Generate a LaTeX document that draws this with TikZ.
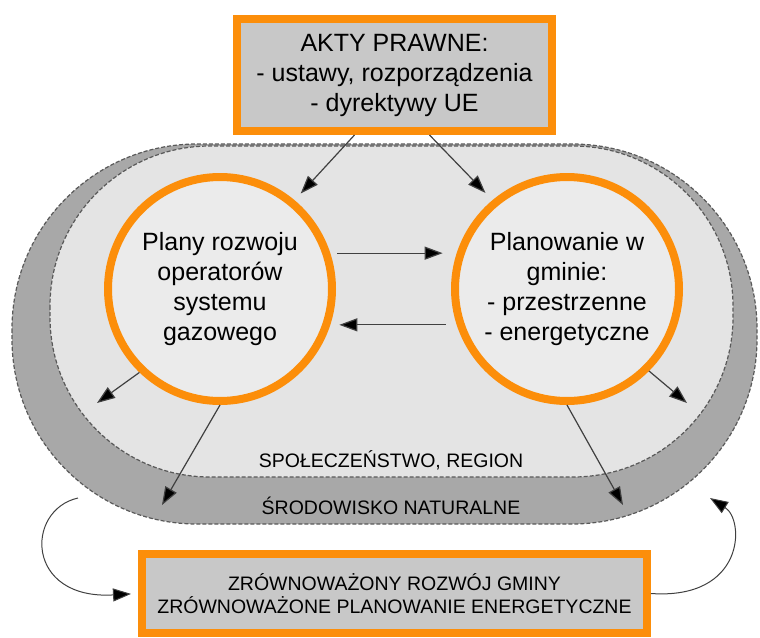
\documentclass[tikz,border=0pt]{standalone}
\usepackage{fontspec}
\setmainfont{Liberation Sans}
\usetikzlibrary{arrows.meta}
\definecolor{pomar}{RGB}{252,142,10}
\definecolor{szaryjasny}{RGB}{228,228,228}
\definecolor{szaryciemny}{RGB}{168,168,168}
\definecolor{szarybox}{RGB}{200,200,200}
\begin{document}
\begin{tikzpicture}[x=1pt, y=-1pt,
    box/.style={draw=pomar, line width=8pt, fill=szarybox, align=center, inner sep=0pt},
    plan/.style={circle, draw=pomar, line width=8pt, fill=szaryjasny!75!white, align=center,
      minimum size=224pt, inner sep=0pt, font=\fontsize{25}{30}\selectfont},
    strefa/.style={draw=black!65, dash pattern=on 4pt off 2pt, line width=1.2pt},
    arr/.style={-{Triangle[length=18pt,width=13pt,fill=black]}, draw=black!75, line width=1.2pt},
    etykieta/.style={font=\fontsize{19.5}{23}\selectfont}]
    \useasboundingbox (0,0) rectangle (760,637);
    \draw[strefa, fill=szaryciemny, rounded corners=185pt] (12,144) rectangle (757,524);
    \draw[strefa, fill=szaryjasny, rounded corners=160pt] (50,146) rectangle (733,477);
    \node[etykieta] (spol) at (391,460) {SPOŁECZEŃSTWO, REGION};
    \node[etykieta] (srod) at (391,506) {ŚRODOWISKO NATURALNE};
    \node[box, minimum width=315pt, minimum height=112pt, font=\fontsize{25}{30}\selectfont] (akty) at (394.5,75)
        {AKTY PRAWNE:\\- ustawy, rozporządzenia\\- dyrektywy UE};
    \node[plan] (plany) at (220,289) {Plany rozwoju\\operatorów\\systemu\\gazowego};
    \node[plan] (planow) at (567,289) {Planowanie w\\gminie:\\- przestrzenne\\- energetyczne};
    \node[box, minimum width=505pt, minimum height=79pt, etykieta] (zrow) at (394.5,593.5)
        {ZRÓWNOWAŻONY ROZWÓJ GMINY\\ZRÓWNOWAŻONE PLANOWANIE ENERGETYCZNE};
    \coordinate (spol-l) at (97,403);
    \coordinate (spol-p) at (687,403);
    \coordinate (srod-l) at (162,505);
    \coordinate (srod-p) at (623,505);
    \coordinate (env-l) at (78,498);
    \coordinate (env-p) at (710,498);
    \draw[arr, shorten >=9pt] ([xshift=-40pt]akty.south) -- (plany.50);
    \draw[arr, shorten >=10pt] ([xshift=35pt]akty.south) -- (planow.130);
    \draw[arr, shorten <=7pt, shorten >=14pt] (plany.18) -- (planow.162);
    \draw[arr, shorten <=11pt, shorten >=9pt] (planow.198) -- (plany.-18);
    \draw[arr] (plany.226) -- (spol-l);
    \draw[arr] (planow.-45) -- (spol-p);
    \draw[arr] (plany.south) -- (srod-l);
    \draw[arr] (planow.south) -- (srod-p);
    \draw[arr, line width=1pt, shorten >=7pt] (env-l) .. controls (25,510) and (25,600) .. (zrow.west);
    \draw[arr, line width=1pt] (zrow.east) .. controls (745,600) and (745,520) .. (env-p);
\end{tikzpicture}
\end{document}
